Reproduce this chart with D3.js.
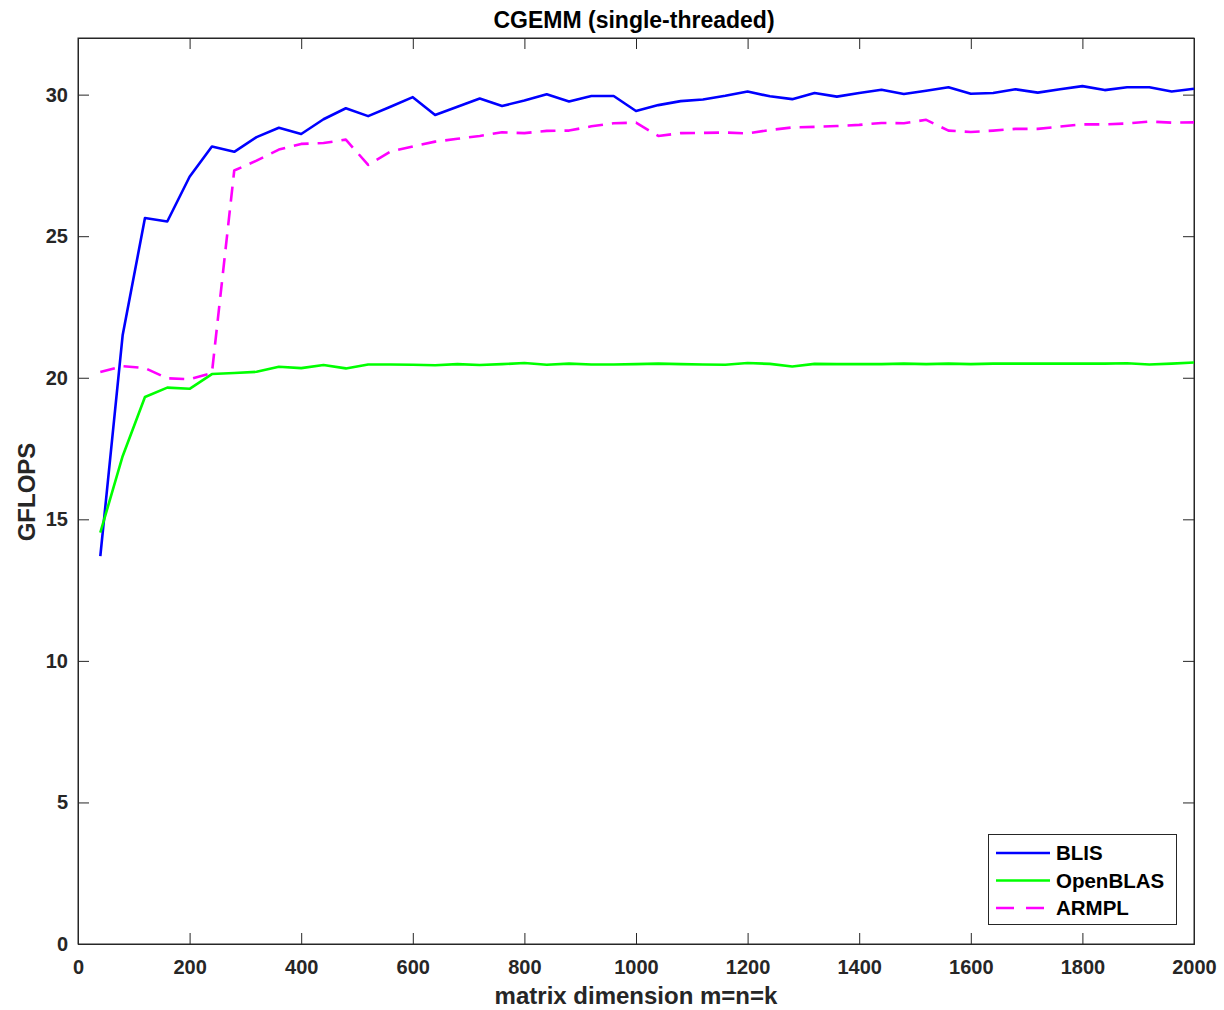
<!DOCTYPE html>
<html><head><meta charset="utf-8">
<script src="https://cdn.jsdelivr.net/npm/d3@7"></script>
<style>body{margin:0;background:#fff;} text{font-family:"Liberation Sans",Arial,sans-serif;font-weight:bold;fill:#262626;}</style>
</head><body>
<svg id="c" width="1224" height="1010"></svg>
<script>
const sizes = d3.range(40, 2001, 40);
const blis = [13.7,21.5,25.64,25.52,27.1,28.17,27.98,28.5,28.83,28.61,29.13,29.52,29.24,29.57,29.91,29.28,29.57,29.86,29.6,29.79,30.01,29.76,29.95,29.95,29.42,29.63,29.77,29.83,29.96,30.11,29.94,29.84,30.06,29.93,30.06,30.17,30.02,30.14,30.26,30.03,30.06,30.19,30.07,30.19,30.3,30.16,30.26,30.26,30.11,30.21];
const openblas = [14.53,17.23,19.32,19.65,19.61,20.13,20.17,20.21,20.39,20.34,20.45,20.33,20.47,20.47,20.46,20.44,20.48,20.45,20.48,20.52,20.46,20.5,20.47,20.47,20.48,20.5,20.48,20.47,20.46,20.52,20.49,20.4,20.49,20.48,20.48,20.48,20.5,20.48,20.5,20.48,20.5,20.5,20.5,20.5,20.5,20.5,20.51,20.47,20.5,20.54];
const armpl = [20.2,20.41,20.34,19.98,19.95,20.17,27.32,27.67,28.06,28.26,28.29,28.41,27.52,27.99,28.17,28.34,28.44,28.54,28.67,28.64,28.72,28.73,28.88,28.99,29.01,28.54,28.64,28.65,28.66,28.63,28.75,28.84,28.86,28.89,28.93,29.0,28.99,29.11,28.73,28.68,28.73,28.79,28.79,28.87,28.95,28.95,28.98,29.05,29.01,29.02];
const xTicks = [0,200,400,600,800,1000,1200,1400,1600,1800,2000];
const yTicks = [0,5,10,15,20,25,30];
const seriesNames = ["BLIS","OpenBLAS","ARMPL"];
const seriesColors = ["#0000ff","#00ff00","#ff00ff"];
const seriesDash = [null,null,"15,9"];
const legendDash = [null,null,"18,12"];
const seriesData = [blis, openblas, armpl];

const svg = d3.select("#c");
const L=78, R=1194, T=38, B=944;
const x = d3.scaleLinear().domain([0,2000]).range([L,R]);
const y = d3.scaleLinear().domain([0,32]).range([B,T]);
const tl = 11;

// box
svg.append("rect").attr("x",L).attr("y",T).attr("width",R-L).attr("height",B-T)
  .attr("fill","none").attr("stroke","#262626").attr("stroke-width",1);

// axes
const xa = svg.append("g").attr("transform",`translate(0,${B})`)
  .call(d3.axisBottom(x).tickValues(xTicks).tickSize(-tl).tickPadding(16).tickFormat(d3.format("d")));
const xt = svg.append("g").attr("transform",`translate(0,${T})`)
  .call(d3.axisTop(x).tickValues(xTicks).tickSize(-tl).tickFormat(""));
const ya = svg.append("g").attr("transform",`translate(${L},0)`)
  .call(d3.axisLeft(y).tickValues(yTicks).tickSize(-tl).tickPadding(10).tickFormat(d3.format("d")));
const yr = svg.append("g").attr("transform",`translate(${R},0)`)
  .call(d3.axisRight(y).tickValues(yTicks).tickSize(-tl).tickFormat(""));
[xa,xt,ya,yr].forEach(g=>{
  g.select(".domain").attr("stroke","#262626");
  g.selectAll(".tick line").attr("stroke","#262626");
  g.selectAll(".tick text").attr("font-size",20).attr("fill","#262626")
   .style("font-family","'Liberation Sans',Arial,sans-serif").style("font-weight","bold");
});

// lines
const line = d3.line().x((d,i)=>x(sizes[i])).y(d=>y(d));
seriesData.forEach((s,k)=>{
  svg.append("path").datum(s).attr("d",line).attr("fill","none")
    .attr("stroke",seriesColors[k]).attr("stroke-width",2.6)
    .attr("stroke-dasharray",seriesDash[k]).attr("stroke-linejoin","round");
});

// labels
svg.append("text").attr("x",634).attr("y",28).attr("text-anchor","middle").attr("font-size",23).style("fill","#000").text("CGEMM (single-threaded)");
svg.append("text").attr("x",636).attr("y",1004).attr("text-anchor","middle").attr("font-size",24).text("matrix dimension m=n=k");
svg.append("text").attr("transform",`translate(35,492) rotate(-90)`).attr("text-anchor","middle").attr("font-size",24).text("GFLOPS");

// legend
const lg = svg.append("g");
lg.append("rect").attr("x",988.5).attr("y",834.5).attr("width",188).attr("height",90)
  .attr("fill","#fff").attr("stroke","#262626").attr("stroke-width",1);
seriesNames.forEach((n,k)=>{
  const yy = 853 + k*27.5;
  lg.append("line").attr("x1",996).attr("x2",1050).attr("y1",yy).attr("y2",yy)
    .attr("stroke",seriesColors[k]).attr("stroke-width",2.6).attr("stroke-dasharray",legendDash[k]);
  lg.append("text").attr("x",1056).attr("y",yy+7).attr("font-size",20.5).style("fill","#000").text(n);
});
</script>
</body></html>
